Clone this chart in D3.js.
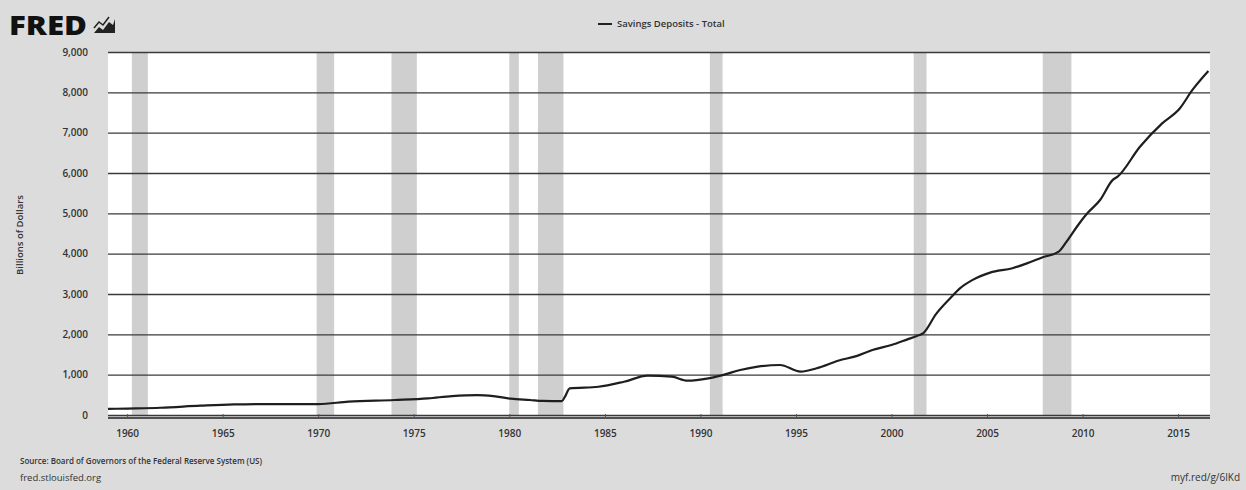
<!DOCTYPE html>
<html>
<head>
<meta charset="utf-8">
<script src="https://cdn.jsdelivr.net/npm/d3@7"></script>
<style>
  body { margin: 0; background: #dcdcdc; }
  text { font-family: "Open Sans", "DejaVu Sans", sans-serif; }
</style>
</head>
<body>
<div id="chart"></div>
<script>
// Savings Deposits - Total, billions of dollars
var dates = ["1959-01","1960-01","1961-10","1963-11","1965-08","1967-09","1970-01","1971-08",
  "1974-01","1975-10","1977-01","1978-05","1979-03","1980-02","1981-02","1981-10","1982-10",
  "1982-12","1983-03","1984-09","1986-01","1987-04","1988-07","1989-05","1990-06","1991-03",
  "1992-02","1993-01","1994-03","1995-04","1996-02","1997-04","1998-03","1999-01","2000-01",
  "2000-11","2001-05","2001-09","2002-05","2003-02","2003-08","2004-04","2005-03",
  "2006-05","2007-02","2007-12","2008-10","2009-03","2009-11","2010-04","2010-12","2011-08",
  "2011-11","2013-01","2014-03","2015-02","2015-10","2016-08"];
var values = [150,160,180,230,262,272,272,330,
  372,413,470,495,470,405,372,350,345,
  455,660,700,825,975,950,850,910,990,
  1115,1200,1240,1075,1160,1350,1460,1610,1735,
  1875,1960,2030,2500,2900,3140,3350,3530,
  3640,3760,3910,4050,4300,4755,5000,5330,5830,
  5910,6650,7230,7600,8060,8530];

var recStarts = ["1960-04","1969-12","1973-11","1980-01","1981-07","1990-07","2001-03","2007-12"];
var recEnds   = ["1961-02","1970-11","1975-03","1980-07","1982-11","1991-03","2001-11","2009-06"];

var yTicks = [0,1000,2000,3000,4000,5000,6000,7000,8000,9000];
var xTickYears = [1960,1965,1970,1975,1980,1985,1990,1995,2000,2005,2010,2015];

var width = 1246,
    height = 490;

var parse = d3.timeParse("%Y-%m");
var data = dates.map(function (d, i) { return { date: parse(d), value: values[i] }; });

var x = d3.scaleTime()
    .domain([parse("1959-01"), parse("2016-09")])
    .range([108, 1210]);

var y = d3.scaleLinear()
    .domain([0, 9000])
    .range([415, 52]);

var svg = d3.select("#chart").append("svg")
    .attr("width", width)
    .attr("height", height);

svg.append("rect")
    .attr("width", width)
    .attr("height", height)
    .attr("fill", "#dcdcdc");

// plot area
svg.append("rect")
    .attr("x", x.range()[0])
    .attr("y", y(9000))
    .attr("width", x.range()[1] - x.range()[0])
    .attr("height", y(0) - y(9000))
    .attr("fill", "#fff");

// recession bands
svg.selectAll(".rec")
    .data(recStarts)
    .enter().append("rect")
    .attr("class", "rec")
    .attr("x", function (d) { return x(parse(d)); })
    .attr("y", y(9000))
    .attr("width", function (d, i) { return x(parse(recEnds[i])) - x(parse(d)); })
    .attr("height", y(0) - y(9000))
    .attr("fill", "#cfcfcf");

// y gridlines + labels
var yAxis = d3.axisLeft(y)
    .tickValues(yTicks)
    .tickSize(-(x.range()[1] - x.range()[0]))
    .tickPadding(20)
    .tickFormat(d3.format(","));

svg.append("g")
    .attr("transform", "translate(" + x.range()[0] + ",0)")
    .call(yAxis)
    .call(function (g) {
        g.select(".domain").remove();
        g.selectAll("line").attr("stroke", "#3a3a3a").attr("stroke-width", 1.3);
        g.selectAll("text")
            .attr("fill", "#333")
            .attr("font-size", 10)
            .attr("font-weight", 600);
    });

// x axis
var xAxis = d3.axisBottom(x)
    .tickValues(xTickYears.map(function (yr) { return new Date(yr, 0, 1); }))
    .tickSize(4)
    .tickPadding(8)
    .tickFormat(d3.timeFormat("%Y"));

svg.append("g")
    .attr("transform", "translate(0," + 418 + ")")
    .call(xAxis)
    .call(function (g) {
        g.select(".domain").attr("stroke", "#222").attr("stroke-width", 1.6).attr("d", "M" + x.range()[0] + ",0H" + x.range()[1]);
        g.selectAll("line").attr("stroke", "#555").attr("y2", -4);
        g.selectAll("text")
            .attr("fill", "#333")
            .attr("font-size", 10)
            .attr("font-weight", 600);
    });

// series line
var line = d3.line()
    .x(function (d) { return x(d.date); })
    .y(function (d) { return y(d.value); })
    .curve(d3.curveMonotoneX);

svg.append("path")
    .datum(data)
    .attr("d", line)
    .attr("fill", "none")
    .attr("stroke", "#1e1e1e")
    .attr("stroke-width", 2.2)
    .attr("stroke-linejoin", "round");

// y axis title
svg.append("text")
    .attr("transform", "translate(23,235) rotate(-90)")
    .attr("text-anchor", "middle")
    .attr("font-size", 9.5)
    .attr("font-weight", 600)
    .attr("fill", "#333")
    .text("Billions of Dollars");

// FRED logo
svg.append("text")
    .attr("x", 9)
    .attr("y", 35)
    .attr("font-size", 26)
    .attr("font-weight", 800)
    .attr("textLength", 78)
    .attr("lengthAdjust", "spacingAndGlyphs")
    .attr("fill", "#111")
    .text("FRED");

var icon = svg.append("g").attr("transform", "translate(94,17)");
icon.append("path")
    .attr("d", "M0,16 L5,10 L9,13 L15,5 L19,8 L21,2 L21,16 Z")
    .attr("fill", "#222");
icon.append("path")
    .attr("d", "M0,11 L5,5 L9,8 L15,0")
    .attr("fill", "none")
    .attr("stroke", "#222")
    .attr("stroke-width", 1.5);

// legend
var legend = svg.append("g").attr("transform", "translate(598,27)");
legend.append("line")
    .attr("x1", 0).attr("x2", 14)
    .attr("y1", -3).attr("y2", -3)
    .attr("stroke", "#222")
    .attr("stroke-width", 2);
legend.append("text")
    .attr("x", 19)
    .attr("font-size", 9.5)
    .attr("font-weight", 600)
    .attr("fill", "#333")
    .text("Savings Deposits - Total");

// footer
svg.append("text")
    .attr("x", 20)
    .attr("y", 464)
    .attr("font-size", 8)
    .attr("font-weight", 600)
    .attr("fill", "#333")
    .text("Source: Board of Governors of the Federal Reserve System (US)");

svg.append("text")
    .attr("x", 20)
    .attr("y", 481)
    .attr("font-size", 9.5)
    .attr("fill", "#333")
    .text("fred.stlouisfed.org");

svg.append("text")
    .attr("x", 1240)
    .attr("y", 481)
    .attr("text-anchor", "end")
    .attr("font-size", 10)
    .attr("fill", "#333")
    .text("myf.red/g/6lKd");
</script>
</body>
</html>
